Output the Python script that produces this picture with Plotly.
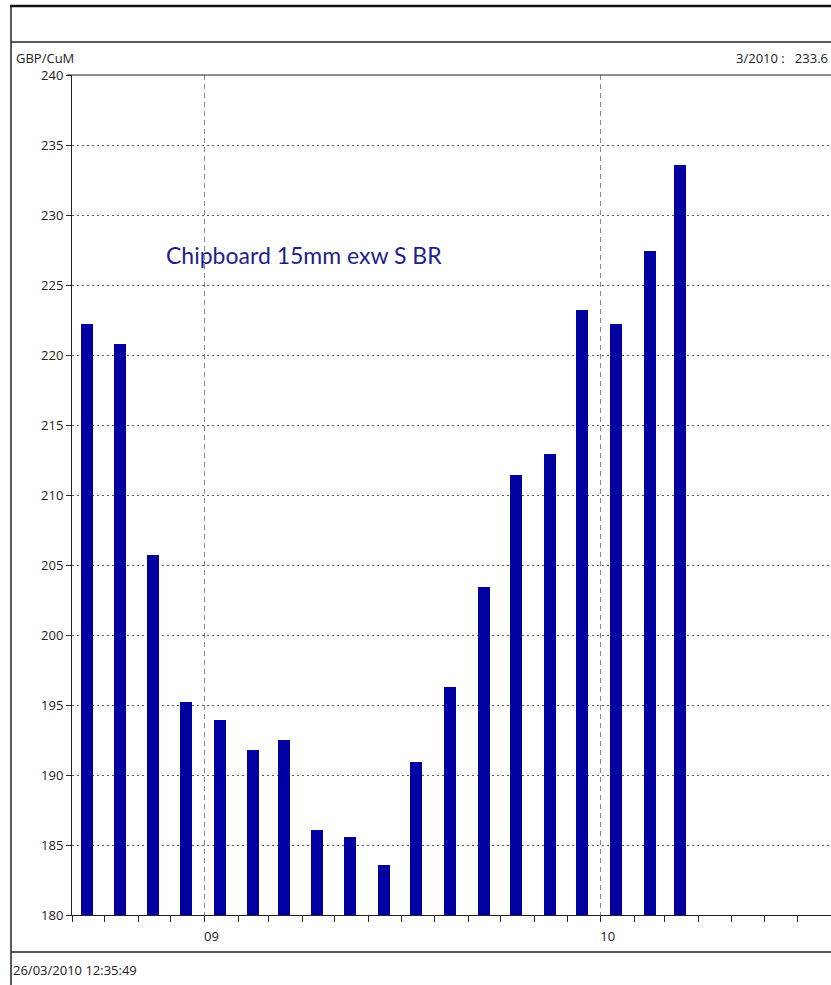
import plotly.graph_objects as go

# monthly prices, GBP per cubic metre (mid-month)
months = ["2008-09-15", "2008-10-15", "2008-11-15", "2008-12-15",
          "2009-01-15", "2009-02-15", "2009-03-15", "2009-04-15",
          "2009-05-15", "2009-06-15", "2009-07-15", "2009-08-15",
          "2009-09-15", "2009-10-15", "2009-11-15", "2009-12-15",
          "2010-01-15", "2010-02-15", "2010-03-15"]
prices = [222.2, 220.8, 205.7, 195.2, 193.9, 191.8, 192.5, 186.1,
          185.6, 183.6, 190.9, 196.3, 203.4, 211.4, 212.9, 223.2,
          222.2, 227.4, 233.6]

y_ticks = [180, 185, 190, 195, 200, 205, 210, 215, 220, 225, 230, 235, 240]

W, H = 831, 985
L, R, T, B = 72, 831, 75, 915  # plot area in pixels


def px_x(p):
    return (p - L) / (R - L)


def px_y(p):
    return (B - p) / (B - T)


fig = go.Figure()
fig.add_trace(go.Bar(
    x=months, y=prices,
    width=11 * 86400000,
    marker=dict(color="#0000A0", line=dict(width=0)),
    showlegend=False,
))

font = "Open Sans, Segoe UI, sans-serif"

fig.update_layout(
    width=W, height=H,
    margin=dict(l=L, r=W - R, t=T, b=H - B),
    paper_bgcolor="white", plot_bgcolor="white",
    font=dict(family=font, size=13, color="#222"),
    bargap=0,
    xaxis=dict(
        type="date",
        range=["2008-09-01", "2010-08-01"],
        tick0="2009-01-01", dtick="M12", tickformat="%y",
        ticks="outside", ticklen=6, tickcolor="#222",
        ticklabelshift=7, ticklabelstandoff=3,
        showgrid=True, gridcolor="#8a8a8a", griddash="5px,4px", gridwidth=1,
        showline=True, linecolor="#222", linewidth=1,
        minor=dict(dtick="M1", tick0="2008-09-01", ticks="outside", ticklen=6,
                   tickcolor="#222", showgrid=False),
        tickfont=dict(size=13, color="#222"),
        zeroline=False,
    ),
    yaxis=dict(
        range=[180, 240],
        tickvals=y_ticks,
        ticks="outside", ticklen=5, tickcolor="#222",
        showgrid=True, gridcolor="#5a5a5a", griddash="2px,3px", gridwidth=1.3,
        showline=True, linecolor="#222", linewidth=1,
        tickfont=dict(size=13, color="#222"),
        zeroline=False,
    ),
)

# frame lines around the chart window
line = dict(color="#222", width=1.5)
shapes = [
    dict(type="line", xref="paper", yref="paper", x0=px_x(10), x1=px_x(W + 5),
         y0=px_y(6), y1=px_y(6), line=dict(color="#111", width=2.5)),
    dict(type="line", xref="paper", yref="paper", x0=px_x(11), x1=px_x(11),
         y0=px_y(5), y1=px_y(H + 5), line=line),
    dict(type="line", xref="paper", yref="paper", x0=px_x(11), x1=px_x(W + 5),
         y0=px_y(42), y1=px_y(42), line=line),
    dict(type="line", xref="paper", yref="paper", x0=px_x(11), x1=px_x(W + 5),
         y0=px_y(952), y1=px_y(952), line=line),
    dict(type="line", xref="paper", yref="paper", x0=px_x(67), x1=1,
         y0=1, y1=1, line=dict(color="#222", width=1.2)),
]
fig.update_layout(shapes=shapes)

fig.add_annotation(text="GBP/CuM", xref="paper", yref="paper",
                   x=px_x(14), y=px_y(58), xanchor="left", yanchor="middle",
                   showarrow=False, font=dict(size=13, color="#222"))
fig.add_annotation(text="3/2010 :   233.6", xref="paper", yref="paper",
                   x=px_x(830), y=px_y(58), xanchor="right", yanchor="middle",
                   showarrow=False, font=dict(size=13, color="#222"))
fig.add_annotation(text="26/03/2010 12:35:49", xref="paper", yref="paper",
                   x=px_x(11), y=px_y(970), xanchor="left", yanchor="middle",
                   showarrow=False, font=dict(size=13, color="#222"))
fig.add_annotation(text="Chipboard 15mm exw S BR", xref="paper", yref="paper",
                   x=px_x(164), y=px_y(255), xanchor="left", yanchor="middle",
                   showarrow=False,
                   font=dict(family="Lato, Open Sans, sans-serif", size=23, color="#1e1e8c"))

# page body has a default 8px margin; drop it so the figure sits at 0,0
fig.write_html("out.html", config={"displayModeBar": False},
               post_script="document.body.style.margin='0';")
